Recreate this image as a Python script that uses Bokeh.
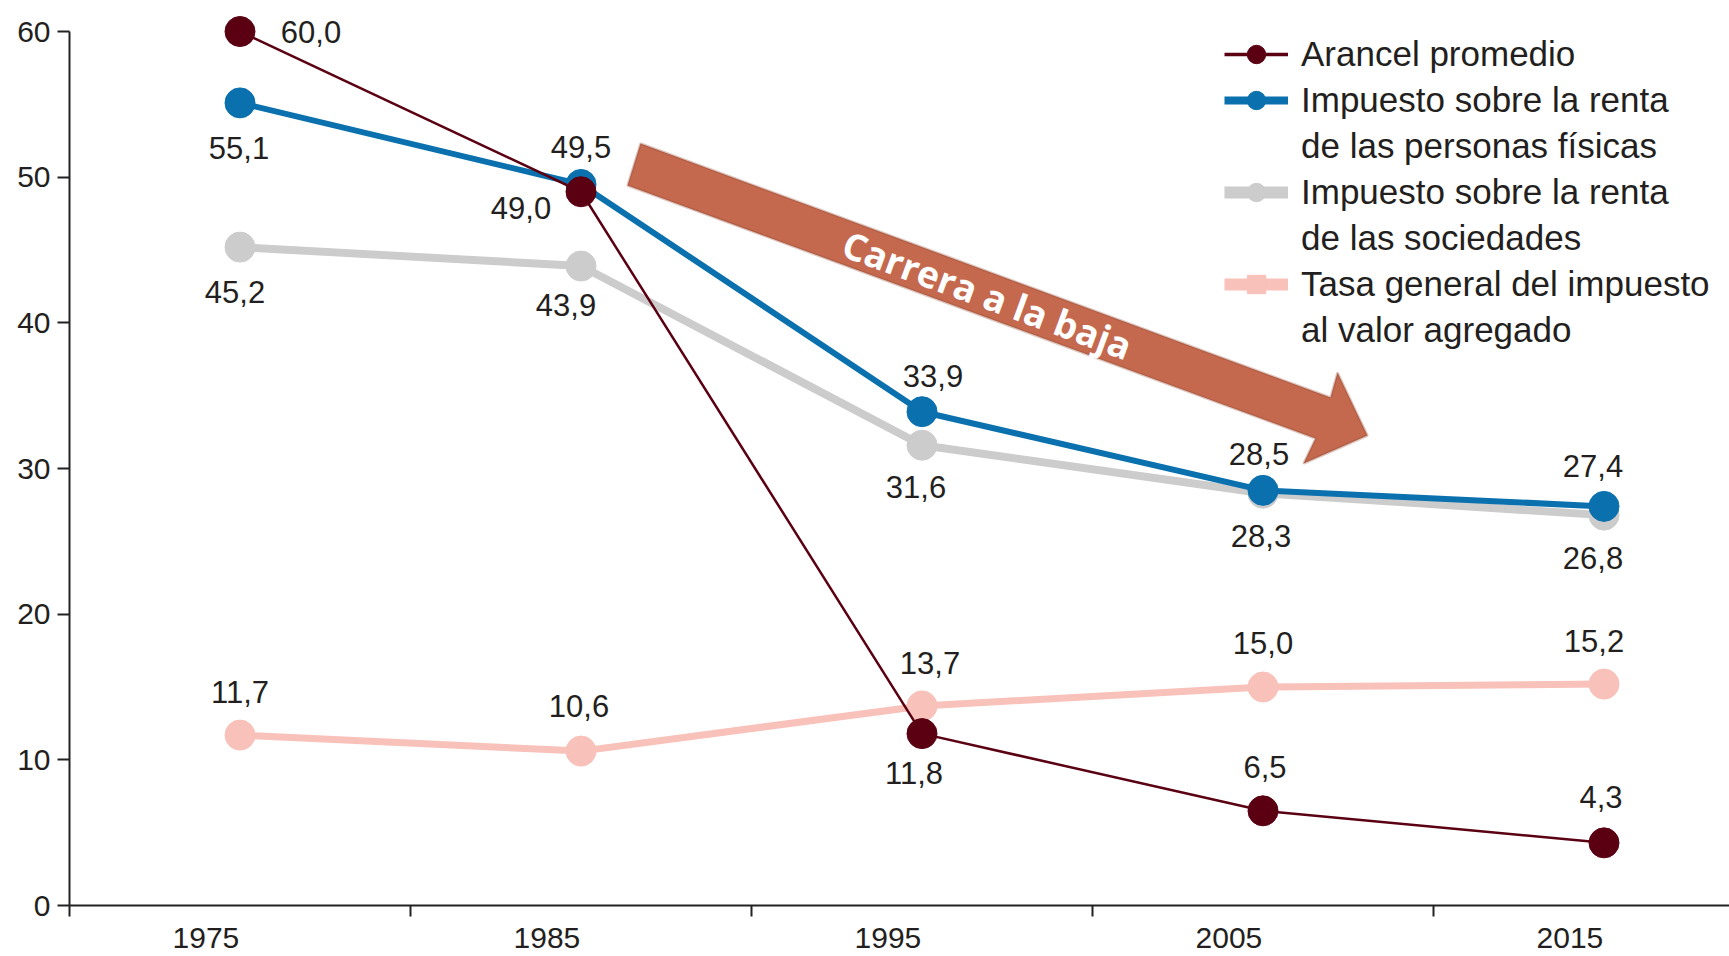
from bokeh.plotting import figure
from bokeh.models import (ColumnDataSource, FixedTicker, Legend, LegendItem,
                          PolyAnnotation, Label, Range1d)
from bokeh.core.properties import value
from bokeh.embed import file_html
from bokeh.resources import INLINE

# ---------------- data ----------------
years = [1975, 1985, 1995, 2005, 2015]
year_labels = ["1975", "1985", "1995", "2005", "2015"]
arancel = [60.0, 49.0, 11.8, 6.5, 4.3]
irpf = [55.1, 49.5, 33.9, 28.5, 27.4]
sociedades = [45.2, 43.9, 31.6, 28.3, 26.8]
iva = [11.7, 10.6, 13.7, 15.0, 15.2]
y_ticks = [0, 10, 20, 30, 40, 50, 60]
legend_lines = {
    "arancel": ["Arancel promedio"],
    "irpf": ["Impuesto sobre la renta", "de las personas físicas"],
    "soc": ["Impuesto sobre la renta", "de las sociedades"],
    "iva": ["Tasa general del impuesto", "al valor agregado"],
}
annotation_text = "Carrera a la baja"

# ---------------- style ----------------
FONT = "Liberation Sans"
TXT = "#231f20"
C_AR = "#5a0012"
C_IR = "#0a70ae"
C_SO = "#cdcccc"
C_IV = "#f8c1b9"
ARROW_FILL = "#c4684e"
ARROW_LINE = "#8c4630"

W, H = 1729, 956
LEFT, BOTTOM = 69, 51
X0, X1 = 1970, 2018.68
Y0, Y1 = 0, 62.13

p = figure(width=W, height=H, x_range=(X0, X1), y_range=(Y0, Y1),
           output_backend="svg", toolbar_location=None,
           min_border_left=LEFT, min_border_right=0, min_border_top=0,
           min_border_bottom=BOTTOM, background_fill_color="white")
p.xgrid.visible = False
p.ygrid.visible = False
p.outline_line_color = None
# a range that places legend-only glyphs outside the visible frame
p.extra_y_ranges = {"legend_only": Range1d(1000, 1100)}

# axes
xa = p.xaxis[0]
xa.ticker = FixedTicker(ticks=[y - 1 for y in years], minor_ticks=[y - 5 for y in years])
xa.major_label_overrides = {y - 1: lab for y, lab in zip(years, year_labels)}
xa.major_tick_out = 0
xa.major_tick_in = 0
xa.minor_tick_out = 11
xa.minor_tick_in = 0
xa.minor_tick_line_color = "#222222"
xa.minor_tick_line_width = 2
xa.axis_line_color = "#222222"
xa.axis_line_width = 2
xa.major_label_standoff = 11
xa.major_label_text_font = FONT
xa.major_label_text_font_size = "30px"
xa.major_label_text_color = TXT

ya = p.yaxis[0]
ya.ticker = FixedTicker(ticks=y_ticks, minor_ticks=[])
ya.bounds = (0, 60)
ya.major_tick_out = 12
ya.major_tick_in = 0
ya.major_tick_line_color = "#222222"
ya.major_tick_line_width = 2
ya.axis_line_color = "#222222"
ya.axis_line_width = 2
ya.major_label_standoff = 7
ya.major_label_text_font = FONT
ya.major_label_text_font_size = "30px"
ya.major_label_text_color = TXT


def fmt(v):
    return f"{v:.1f}".replace(".", ",")


# key, values, colour, plot line width, legend line width, label dx, label dy
series = [
    ("soc", sociedades, C_SO, 8, 12, [-5, -15, -6, -2, -11], [45, 39, 42, 43, 43]),
    ("iva", iva, C_IV, 7, 12, [0, -2, 8, 0, -10], [-43, -45, -43, -44, -43]),
    ("irpf", irpf, C_IR, 6, 8, [-1, 0, 11, -4, -11], [45, -37, -36, -36, -40]),
    ("arancel", arancel, C_AR, 2.5, 3.5, [71, -60, -8, 2, -3], [0, 16, 39, -44, -46]),
]

rends = {}
for key, vals, col, lw, llw, dx, dy in series:
    src = ColumnDataSource(dict(x=years, y=vals, lab=[fmt(v) for v in vals],
                                dx=dx, dy=dy))
    p.line("x", "y", source=src, line_color=col, line_width=lw)
    rs = p.scatter("x", "y", source=src, marker="circle", size=30,
                   fill_color=col, line_color=col)
    # legend-only glyphs, mapped onto the off-frame range
    rl_leg = p.line("x", "y", source=src, line_color=col, line_width=llw,
                    y_range_name="legend_only")
    rsq_leg = p.scatter("x", "y", source=src, marker="square", size=30,
                        fill_color=col, line_color=col,
                        y_range_name="legend_only")
    rends[key] = (rl_leg, rs, rsq_leg, src)

for key, vals, col, lw, llw, dx, dy in series:
    src = rends[key][3]
    p.text("x", "y", text="lab", source=src, x_offset="dx", y_offset="dy",
           text_align="center", text_baseline="middle",
           text_font=value(FONT), text_font_size="31px", text_color=TXT)

# ---------------- arrow annotation ----------------
FRAME_H = H - BOTTOM
PX_PER_X = (W - LEFT) / (X1 - X0)
PX_PER_Y = FRAME_H / (Y1 - Y0)


def px2x(px):
    return X0 + (px - LEFT) / PX_PER_X


def px2y(py):
    return Y0 + (FRAME_H - py) / PX_PER_Y


arrow_px = [(640, 143), (1330, 397), (1337, 372), (1367, 435),
            (1303, 463), (1315, 438), (627, 185)]
p.add_layout(PolyAnnotation(xs=[px2x(a) for a, b in arrow_px],
                            ys=[px2y(b) for a, b in arrow_px],
                            fill_color=ARROW_FILL, fill_alpha=1.0,
                            line_color=ARROW_LINE, line_width=2.5))
p.add_layout(Label(x=px2x(987), y=px2y(294), text=annotation_text,
                   angle=-0.3526, text_align="center", text_baseline="middle",
                   text_font="Open Sans", text_font_style="bold",
                   text_font_size="37px", text_color="white"))

# ---------------- legend ----------------
dummy = p.line(x=[], y=[], line_alpha=0)
items = []
for key in ["arancel", "irpf", "soc", "iva"]:
    rl_leg, rs, rsq_leg, _ = rends[key]
    lines = legend_lines[key]
    marker = rsq_leg if key == "iva" else rs
    items.append(LegendItem(label=lines[0], renderers=[rl_leg, marker]))
    for ln in lines[1:]:
        items.append(LegendItem(label=ln, renderers=[dummy]))

legend = Legend(items=items, location=(1155, 552), padding=0, margin=0,
                spacing=0, label_height=46, glyph_height=46, glyph_width=64,
                label_standoff=13, border_line_color=None,
                background_fill_alpha=0, label_text_font=FONT,
                label_text_font_size="35px", label_text_color=TXT)
p.add_layout(legend)

open("out.html", "w").write(file_html(p, INLINE))
